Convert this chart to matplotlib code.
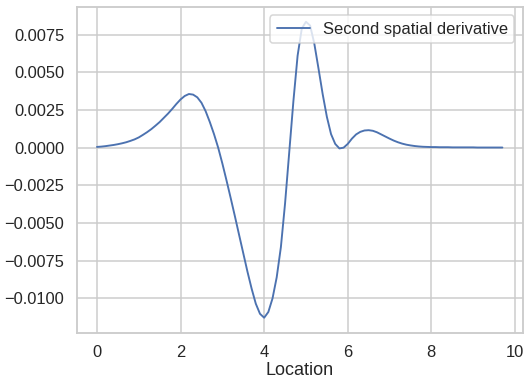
import numpy as np
import matplotlib
matplotlib.use("Agg")
import matplotlib.pyplot as plt
import seaborn as sns

# location grid (step 0.1) and second spatial derivative
location = np.round(np.arange(0, 9.8, 0.1), 1)
d2 = [
    0.00005, 0.00007, 0.00010, 0.00014, 0.00018, 0.00023, 0.00029, 0.00036, 0.00045, 0.00055,
    0.00068, 0.00085, 0.00103, 0.00123, 0.00146, 0.00170, 0.00198, 0.00226, 0.00257, 0.00290,
    0.00320, 0.00343, 0.00356, 0.00352, 0.00334, 0.00298, 0.00242, 0.00170, 0.00090, 0.00000,
    -0.00105, -0.00218, -0.00335, -0.00455, -0.00578, -0.00700, -0.00822, -0.00935, -0.01035, -0.01102,
    -0.01128, -0.01090, -0.01000, -0.00860, -0.00660, -0.00370, -0.00030, 0.00310, 0.00610, 0.00790,
    0.00835, 0.00810, 0.00690, 0.00525, 0.00355, 0.00205, 0.00090, 0.00025, -0.00005, 0.00000,
    0.00025, 0.00060, 0.00088, 0.00105, 0.00114, 0.00116, 0.00112, 0.00102, 0.00088, 0.00074,
    0.00060, 0.00047, 0.00036, 0.00027, 0.00020, 0.00015, 0.00011, 0.00008, 0.00006, 0.00005,
    0.00004, 0.00004, 0.00003, 0.00003, 0.00003, 0.00002, 0.00002, 0.00002, 0.00002, 0.00002,
    0.00002, 0.00001, 0.00001, 0.00001, 0.00001, 0.00001, 0.00001, 0.00001,
]

sns.set_theme(style="whitegrid", context="talk")
plt.rcParams["font.family"] = ["Liberation Sans", "DejaVu Sans"]

fig = plt.figure(figsize=(530 / 72, 387 / 72), dpi=72)
ax = fig.add_axes([0.1447, 0.1408, 0.8415, 0.8411])

ax.plot(location, d2, color="#4c72b0", linewidth=1.9, label="Second spatial derivative")
ax.set_xlabel("Location", labelpad=2)
ax.legend(loc="upper right")

fig.savefig("out.png", dpi=72)
